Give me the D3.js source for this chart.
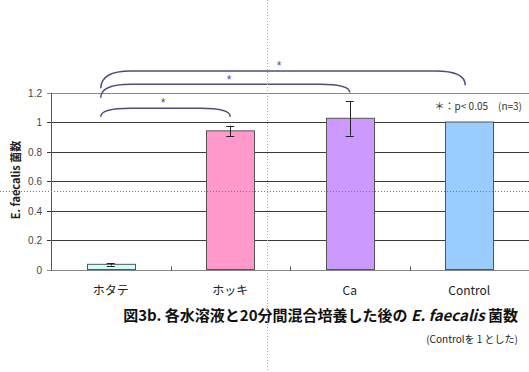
<!DOCTYPE html>
<html>
<head>
<meta charset="utf-8">
<script src="https://cdn.jsdelivr.net/npm/d3@7"></script>
<style>
  body { margin: 0; background: #fff; }
  svg { display: block; }
</style>
</head>
<body>
<svg id="chart" width="529" height="372"></svg>
<script>
// data
const categories = ['ホタテ', 'ホッキ', 'Ca', 'Control'];
const values = [0.035, 0.94, 1.025, 1.0];
const errors = [0.008, 0.035, 0.117, 0];
const barColors = ['#ccffff', '#ff99cc', '#cc99ff', '#99ccff'];
const yTicks = [0, 0.2, 0.4, 0.6, 0.8, 1, 1.2];
const yTickLabels = ['0', '0.2', '0.4', '0.6', '0.8', '1', '1.2'];
// significance brackets: pair, top level, left end level, right end level
const bracketPairs = [['ホタテ', 'ホッキ'], ['ホタテ', 'Ca'], ['ホタテ', 'Control']];
const bracketTops = [1.093, 1.256, 1.346];
const bracketLeftEnds = [1.036, 1.165, 1.228];
const bracketRightEnds = [1.036, 1.2, 1.25];

const svg = d3.select('#chart');
const jp = '"Noto Sans CJK JP", "Liberation Sans", sans-serif';
const sans = '"Liberation Sans", Arial, sans-serif';

const x = d3.scaleBand().domain(categories).range([51, 529]).paddingInner(0).paddingOuter(0);
const y = d3.scaleLinear().domain([0, 1.2]).range([269.5, 92.5]);
const barW = x.bandwidth() * 0.4;
const cx = d => x(d) + x.bandwidth() / 2;

// gridlines
svg.selectAll('line.grid')
    .data(yTicks)
    .enter()
    .append('line')
    .attr('class', 'grid')
    .attr('x1', 47).attr('x2', 529)
    .attr('y1', d => Math.round(y(d)) + 0.5)
    .attr('y2', d => Math.round(y(d)) + 0.5)
    .attr('stroke', d => (d === 0 || d === 1.2) ? '#888' : '#3a3a3a')
    .attr('stroke-width', 1);

// y axis line
svg.append('line')
    .attr('x1', 51.5).attr('x2', 51.5)
    .attr('y1', Math.round(y(1.2)) + 0.5).attr('y2', Math.round(y(0)) + 0.5)
    .attr('stroke', '#555');

// x ticks at band boundaries
svg.selectAll('line.xtick')
    .data(categories.slice(1))
    .enter()
    .append('line')
    .attr('class', 'xtick')
    .attr('x1', d => Math.round(x(d)) + 0.5).attr('x2', d => Math.round(x(d)) + 0.5)
    .attr('y1', Math.round(y(0)) + 0.5).attr('y2', Math.round(y(0)) - 3.5)
    .attr('stroke', '#555');

// y tick labels
svg.selectAll('text.ytick')
    .data(yTicks)
    .enter()
    .append('text')
    .attr('class', 'ytick')
    .attr('x', 42)
    .attr('y', d => y(d) + 4)
    .attr('text-anchor', 'end')
    .attr('font-family', sans)
    .attr('font-size', 10)
    .attr('fill', '#444')
    .text((d, i) => yTickLabels[i]);

// bars
svg.selectAll('rect.bar')
    .data(categories)
    .enter()
    .append('rect')
    .attr('class', 'bar')
    .attr('x', d => Math.round(cx(d) - barW / 2) + 0.5)
    .attr('y', (d, i) => y(values[i]))
    .attr('width', Math.round(barW))
    .attr('height', (d, i) => y(0) - y(values[i]))
    .attr('fill', (d, i) => barColors[i])
    .attr('stroke', '#555')
    .attr('stroke-width', 1);

// error bars
const errG = svg.selectAll('g.err')
    .data(categories.filter((d, i) => errors[i] > 0))
    .enter()
    .append('g')
    .attr('class', 'err')
    .attr('stroke', '#222')
    .attr('stroke-width', 1);
errG.append('line')
    .attr('x1', d => Math.round(cx(d)) + 0.5).attr('x2', d => Math.round(cx(d)) + 0.5)
    .attr('y1', d => y(values[categories.indexOf(d)] + errors[categories.indexOf(d)]))
    .attr('y2', d => y(values[categories.indexOf(d)] - errors[categories.indexOf(d)]));
[1, -1].forEach(s => {
    errG.append('line')
        .attr('x1', d => cx(d) - 4).attr('x2', d => cx(d) + 4)
        .attr('y1', d => {
            const i = categories.indexOf(d);
            return Math.round(y(values[i] + s * errors[i])) + 0.5;
        })
        .attr('y2', d => {
            const i = categories.indexOf(d);
            return Math.round(y(values[i] + s * errors[i])) + 0.5;
        });
});

// x labels
svg.selectAll('text.xlabel')
    .data(categories)
    .enter()
    .append('text')
    .attr('class', 'xlabel')
    .attr('x', d => cx(d))
    .attr('y', 295)
    .attr('text-anchor', 'middle')
    .attr('font-family', jp)
    .attr('font-size', 12)
    .attr('fill', '#222')
    .text(d => d);

// y axis title
svg.append('text')
    .attr('transform', 'translate(20,180) rotate(-90)')
    .attr('text-anchor', 'middle')
    .attr('font-family', jp)
    .attr('font-size', 11)
    .attr('font-weight', 'bold')
    .attr('fill', '#222')
    .text('E.  faecalis 菌数');

// significance brackets
const r = 30;
bracketPairs.forEach((p, i) => {
    const x1 = cx(p[0]) - 10;
    const x2 = cx(p[1]) - (i === 2 ? 4 : 0);
    const yt = y(bracketTops[i]);
    const yl = y(bracketLeftEnds[i]);
    const yr = y(bracketRightEnds[i]);
    svg.append('path')
        .attr('d', `M${x1},${yl} Q${x1},${yt} ${x1 + r},${yt} L${x2 - r},${yt} Q${x2},${yt} ${x2},${yr}`)
        .attr('fill', 'none')
        .attr('stroke', '#4d4d78')
        .attr('stroke-width', 1.5);
});

// stars
const starPos = [[163, 107], [229, 84], [279, 70]];
svg.selectAll('text.star')
    .data(starPos)
    .enter()
    .append('text')
    .attr('class', 'star')
    .attr('x', d => d[0])
    .attr('y', d => d[1])
    .attr('text-anchor', 'middle')
    .attr('font-family', sans)
    .attr('font-size', 12)
    .attr('fill', '#4a4aa8')
    .text('*');

// note
svg.append('text')
    .attr('x', 522)
    .attr('y', 110)
    .attr('text-anchor', 'end')
    .attr('font-family', jp)
    .attr('font-size', 10)
    .attr('fill', '#333')
    .text('＊：p< 0.05　(n=3)');

// caption
const cap = svg.append('text')
    .attr('x', 518)
    .attr('y', 321)
    .attr('text-anchor', 'end')
    .attr('font-family', jp)
    .attr('font-size', 15)
    .attr('font-weight', 'bold')
    .attr('fill', '#111');
cap.append('tspan').text('図3b. 各水溶液と20分間混合培養した後の ');
cap.append('tspan').attr('font-style', 'italic').text('E. faecalis');
cap.append('tspan').text(' 菌数');

svg.append('text')
    .attr('x', 518)
    .attr('y', 343)
    .attr('text-anchor', 'end')
    .attr('font-family', jp)
    .attr('font-size', 10)
    .attr('fill', '#222')
    .text('(Controlを 1 とした)');

// page guide lines (dotted), drawn over everything
svg.append('line')
    .attr('x1', 267.5).attr('x2', 267.5).attr('y1', 0).attr('y2', 372)
    .attr('stroke', '#aaa').attr('stroke-dasharray', '1,2');
svg.append('line')
    .attr('x1', 0).attr('x2', 529).attr('y1', 191.5).attr('y2', 191.5)
    .attr('stroke', '#777').attr('stroke-dasharray', '1,2');
</script>
</body>
</html>
